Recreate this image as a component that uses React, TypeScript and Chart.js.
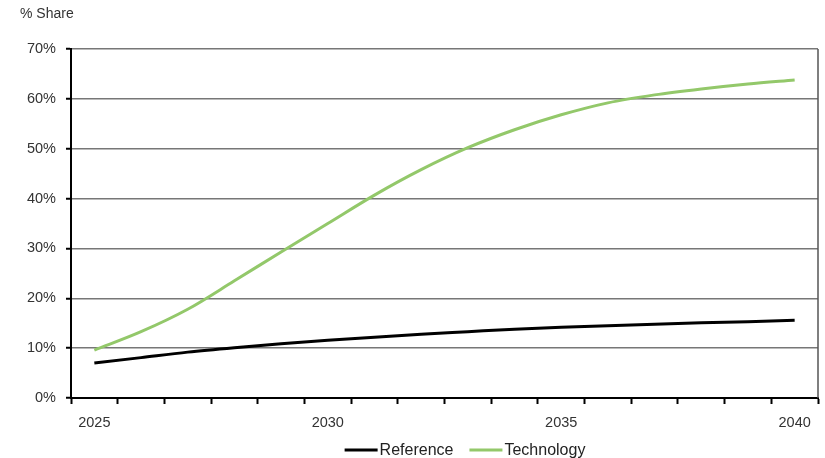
import React, { useEffect, useRef } from "react";
import { Chart, registerables } from "chart.js";

Chart.register(...registerables);

const years = ["2025","2026","2027","2028","2029","2030","2031","2032","2033","2034","2035","2036","2037","2038","2039","2040"];
const referenceShare = [7.0, 8.1, 9.2, 10.1, 10.9, 11.6, 12.2, 12.8, 13.3, 13.8, 14.2, 14.5, 14.8, 15.1, 15.3, 15.6];
const technologyShare = [9.6, 13.3, 17.8, 23.5, 29.3, 35.0, 40.7, 45.8, 50.2, 53.8, 56.8, 59.2, 60.8, 62.0, 63.0, 63.8];
const shownYearLabels = ["2025", "2030", "2035", "2040"];
const yAxisTitle = "% Share";
const seriesNames = ["Reference", "Technology"];

const FONT = "'Liberation Sans', Arial, sans-serif";
const TEXT_COLOR = "#333333";

const extrasPlugin = {
  id: "extras",
  afterDraw(chart: any) {
    const ctx = chart.ctx;
    const area = chart.chartArea;
    ctx.save();
    // right border
    ctx.strokeStyle = "#555555";
    ctx.lineWidth = 1.5;
    ctx.beginPath();
    ctx.moveTo(area.right, area.top);
    ctx.lineTo(area.right, area.bottom);
    ctx.stroke();
    // axis title
    ctx.fillStyle = TEXT_COLOR;
    ctx.font = "14px " + FONT;
    ctx.textAlign = "left";
    ctx.textBaseline = "alphabetic";
    ctx.fillText(yAxisTitle, 20, 18);
    // legend
    ctx.font = "16px " + FONT;
    ctx.textBaseline = "middle";
    const ds = chart.data.datasets;
    const lineW = 33, gapText = 2, gapItem = 16;
    let total = 0;
    ds.forEach((d: any, i: number) => {
      total += lineW + gapText + ctx.measureText(d.label).width;
      if (i < ds.length - 1) total += gapItem;
    });
    let x = 465 - total / 2;
    const y = 450;
    ds.forEach((d: any) => {
      ctx.strokeStyle = d.borderColor;
      ctx.lineWidth = 3;
      ctx.beginPath();
      ctx.moveTo(x, y);
      ctx.lineTo(x + lineW, y);
      ctx.stroke();
      x += lineW + gapText;
      ctx.fillStyle = "#222222";
      ctx.fillText(d.label, x, y + 1);
      x += ctx.measureText(d.label).width + gapItem;
    });
    ctx.restore();
  },
};

export default function App() {
  const ref = useRef<HTMLCanvasElement | null>(null);
  useEffect(() => {
    if (!ref.current) return;
    const chart = new Chart(ref.current, {
      type: "line",
      data: {
        labels: years,
        datasets: [
          {
            label: seriesNames[0],
            data: referenceShare,
            borderColor: "#000000",
            backgroundColor: "#000000",
            borderWidth: 3,
            pointRadius: 0,
            cubicInterpolationMode: "monotone",
          },
          {
            label: seriesNames[1],
            data: technologyShare,
            borderColor: "#93c86a",
            backgroundColor: "#93c86a",
            borderWidth: 3,
            pointRadius: 0,
            cubicInterpolationMode: "monotone",
          },
        ],
      },
      options: {
        responsive: false,
        animation: false,
        layout: { padding: { left: 0, right: 7, top: 49, bottom: 20 } },
        plugins: {
          legend: { display: false },
          tooltip: { enabled: false },
        },
        scales: {
          x: {
            type: "category",
            offset: true,
            grid: {
              offset: true,
              drawOnChartArea: false,
              drawTicks: true,
              tickLength: 6,
              tickColor: "#000000",
              tickWidth: 2,
            },
            border: { color: "#000000", width: 2 },
            ticks: {
              autoSkip: false,
              maxRotation: 0,
              color: TEXT_COLOR,
              font: { family: FONT, size: 14.5 },
              padding: 10,
              callback: function (this: any, value: any, index: number) {
                const lbl = years[index];
                return shownYearLabels.includes(lbl) ? lbl : "";
              },
            },
            afterFit(scale: any) {
              scale.height = 40;
            },
          },
          y: {
            min: 0,
            max: 70,
            grid: {
              color: "#777777",
              lineWidth: 1.5,
              tickLength: 5,
              tickColor: "#000000",
              tickWidth: 2,
            },
            border: { color: "#000000", width: 2 },
            ticks: {
              stepSize: 10,
              color: TEXT_COLOR,
              font: { family: FONT, size: 14.5 },
              padding: 10,
              callback: (v: any) => v + "%",
            },
            afterFit(scale: any) {
              scale.width = 71;
            },
          },
        },
      },
      plugins: [extrasPlugin],
    } as any);
    return () => chart.destroy();
  }, []);
  return (
    <div style={{ position: "absolute", left: 0, top: 0, width: 825, height: 458 }}>
      <canvas ref={ref} width={825} height={458} />
    </div>
  );
}
